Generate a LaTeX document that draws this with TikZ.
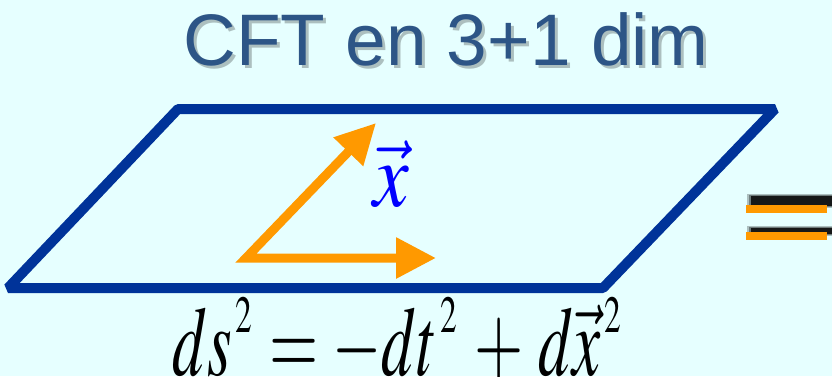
\documentclass[tikz,border=0pt]{standalone}
\usepackage{mathptmx}
\usepackage[no-math]{fontspec}
\usepackage{graphicx}
\setsansfont{Liberation Sans}
\usetikzlibrary{arrows.meta}
\definecolor{bgcyan}{HTML}{E6FFFF}
\definecolor{titleblue}{HTML}{2D5586}
\definecolor{planeblue}{HTML}{003399}
\definecolor{vecorange}{HTML}{FF9900}
\definecolor{labelblue}{HTML}{0000FF}
\newcommand{\sqr}{\mkern1mu\raisebox{29pt}{\fontsize{36}{36}\selectfont$2$}\mkern1mu}

\begin{document}
\begin{tikzpicture}[x=1pt, y=-1pt,
    titletext/.style={anchor=base, font=\sffamily\fontsize{73}{76}\selectfont},
    plane/.style={draw=planeblue, line width=10pt, line join=bevel},
    vecarrow/.style={{Triangle[length=40pt,width=39pt]}-{Triangle[length=40pt,width=39pt]}, draw=vecorange, line width=9pt, line join=miter},
    eqbar/.style={fill=vecorange, draw=none},
    eqshade/.style={fill=black, draw=none},
]
\useasboundingbox[fill=bgcyan] (0,0) rectangle (832,376);
% title, with its soft shadow
\node[titletext, text=black, opacity=0.25] (titleshadow) at (449,68) {CFT en 3+1 dim};
\node[titletext, text=titleblue] (title) at (446,65) {CFT en 3+1 dim};
% the flat space
\coordinate (tl) at (178,109);
\coordinate (tr) at (775,109);
\coordinate (br) at (603,288);
\coordinate (bl) at (8,288);
\draw[plane] (tl) -- (tr) -- (br) -- (bl) -- cycle;
% the two vectors
\coordinate (origin) at (246,258);
\coordinate (tipup) at (376,123);
\coordinate (tipright) at (436,258);
\draw[vecarrow] (tipup) -- (origin) -- (tipright);
\node[anchor=base west, inner sep=0pt, text=labelblue, font=\fontsize{80}{80}\selectfont] (xlabel) at (373,206)
  {\scalebox{1}[1.15]{$\vec{x}$}};
% equals sign, cut by the edge
\foreach \y/\h in {196/10, 228/6} {
  \fill[eqshade, opacity=0.25] (747,\y-2) rectangle (834,\y+\h+2);
  \fill[eqshade, opacity=0.35] (749,\y-1) rectangle (834,\y+\h+1);
  \fill[eqshade, opacity=0.8] (751,\y) rectangle (834,\y+\h);
}
\fill[eqbar] (746,205) rectangle (827,213);
\fill[eqbar] (746,232) rectangle (827,240);
% metric
\node[anchor=base west, inner sep=0pt, font=\fontsize{68}{68}\selectfont] (metric) at (172,375)
  {\scalebox{0.93}[1.45]{$\thickmuskip=4mu \medmuskip=4mu ds\sqr = -dt\sqr + d\vec{x}\sqr$}};
\end{tikzpicture}
\end{document}
